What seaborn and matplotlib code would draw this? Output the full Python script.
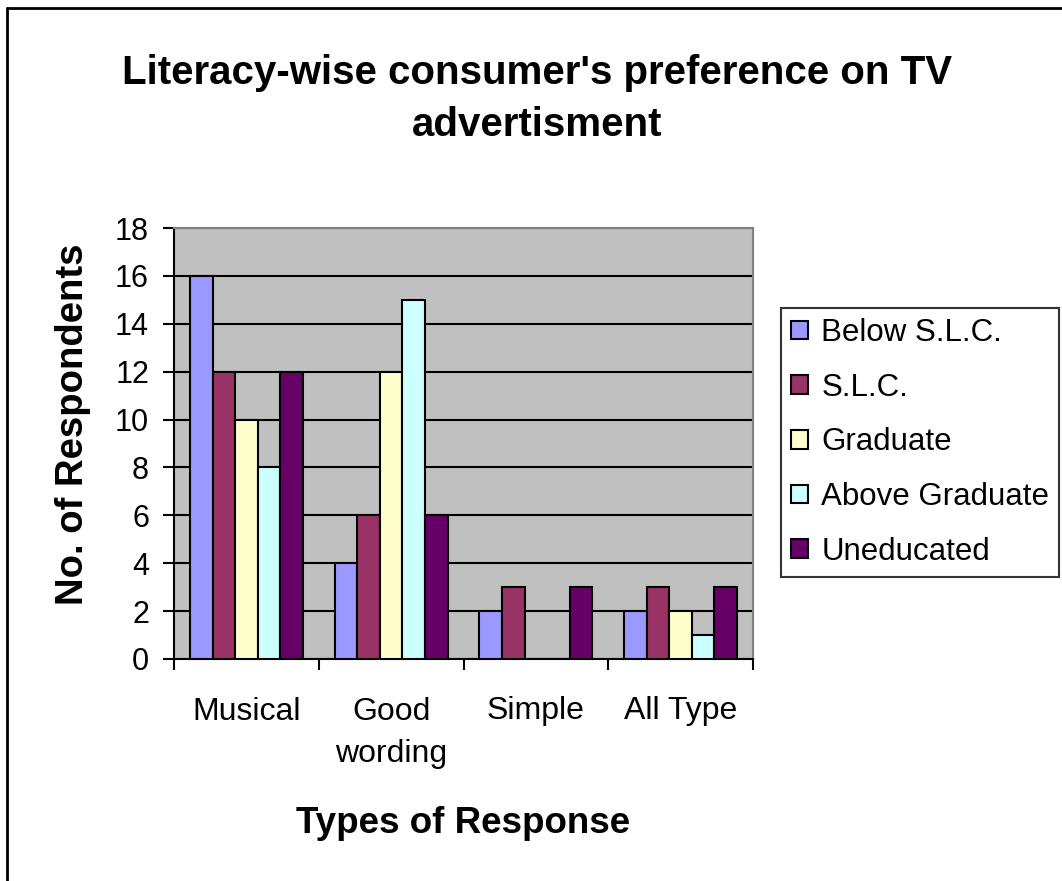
import pandas as pd
import matplotlib.pyplot as plt
import seaborn as sns
from matplotlib.lines import Line2D

# chart data
responses = ['Musical', 'Good\nwording', 'Simple', 'All Type']
groups = ['Below S.L.C.', 'S.L.C.', 'Graduate', 'Above Graduate', 'Uneducated']
below_slc = [16, 4, 2, 2]
slc = [12, 6, 3, 3]
graduate = [10, 12, 0, 2]
above_graduate = [8, 15, 0, 1]
uneducated = [12, 6, 3, 3]
colors = ['#9999FF', '#993366', '#FFFFCC', '#CCFFFF', '#660066']

df = pd.DataFrame({'Response': responses,
                   'Below S.L.C.': below_slc,
                   'S.L.C.': slc,
                   'Graduate': graduate,
                   'Above Graduate': above_graduate,
                   'Uneducated': uneducated})
df_long = df.melt(id_vars='Response', value_vars=groups,
                  var_name='Literacy', value_name='Count')

sns.set_style('white')
plt.rcParams['font.family'] = ['Liberation Sans', 'DejaVu Sans']
plt.rcParams['text.color'] = 'black'
plt.rcParams['axes.labelcolor'] = 'black'
plt.rcParams['xtick.color'] = 'black'
plt.rcParams['ytick.color'] = 'black'

W, H = 1062, 881
fig = plt.figure(figsize=(W / 100, H / 100), dpi=100)
ax = fig.add_axes([174 / W, (H - 659) / H, (753 - 174) / W, (659 - 228) / H])
ax.set_facecolor('#C0C0C0')

sns.barplot(data=df_long, x='Response', y='Count', hue='Literacy',
            hue_order=groups, order=responses, palette=colors,
            saturation=1, width=0.78, edgecolor='black', linewidth=1.5,
            ax=ax, errorbar=None, zorder=3)

ax.set_ylim(0, 18)
ax.set_xlim(-0.5, 3.5)
ax.set_yticks(range(0, 19, 2))
ax.yaxis.grid(True, color='black', linewidth=1.5, zorder=0)
ax.set_axisbelow(True)

ax.tick_params(axis='y', labelsize=22, length=8, width=1.5, direction='out',
               pad=10, left=True)
ax.tick_params(axis='x', which='major', labelsize=23, length=0, pad=27)
ax.set_xticks([-0.5, 0.5, 1.5, 2.5, 3.5], minor=True)
ax.tick_params(axis='x', which='minor', length=8, width=1.5, bottom=True)
for lbl in ax.get_xticklabels():
    lbl.set_linespacing(1.55)

for side in ['left', 'bottom']:
    ax.spines[side].set_color('black')
    ax.spines[side].set_linewidth(1.5)
for side in ['top', 'right']:
    ax.spines[side].set_color('#808080')
    ax.spines[side].set_linewidth(1.5)

ax.set_ylabel('No. of Respondents', fontsize=27.5, fontweight='bold')
ax.yaxis.set_label_coords(-0.143, 0.545)
ax.set_xlabel('Types of Response', fontsize=26.5, fontweight='bold')
ax.xaxis.set_label_coords(0.5, -0.341)

fig.suptitle("Literacy-wise consumer's preference on TV\nadvertisment",
             x=537 / W, y=1 - 99 / H, va='center', fontsize=29,
             fontweight='bold', linespacing=1.45)

leg = ax.legend(loc='upper left', bbox_to_anchor=(781 / W, 1 - 308 / H),
                bbox_transform=fig.transFigure, fontsize=22.5, frameon=True,
                fancybox=False, edgecolor='black', handlelength=0.55,
                handleheight=0.55, handletextpad=0.42, labelspacing=0.79,
                borderpad=0.32, borderaxespad=0, title=None)
leg.get_frame().set_linewidth(1.5)

# outer chart frame (only top and left edges are visible)
fig.add_artist(Line2D([7 / W, 7 / W], [0, 1 - 8 / H], color='black',
                      linewidth=2, transform=fig.transFigure))
fig.add_artist(Line2D([7 / W, 1], [1 - 8 / H, 1 - 8 / H], color='black',
                      linewidth=2, transform=fig.transFigure))

fig.savefig('out.png', dpi=100)
